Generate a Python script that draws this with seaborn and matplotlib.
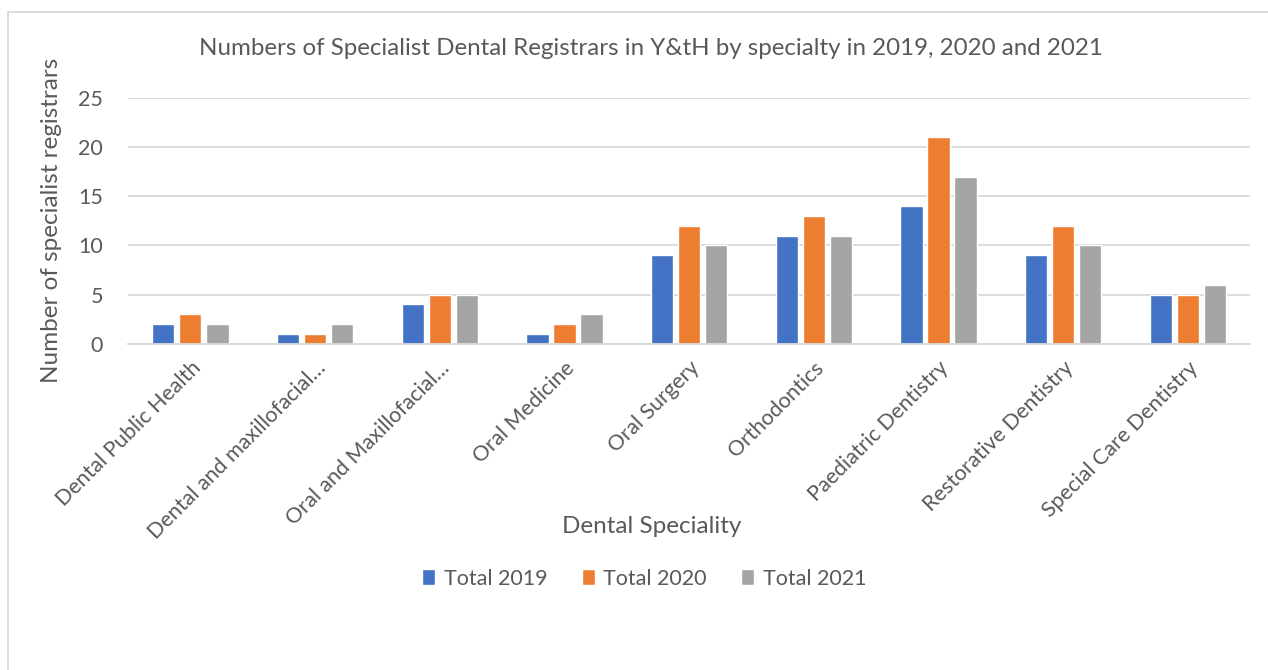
import matplotlib
matplotlib.use('Agg')
import matplotlib.pyplot as plt
from matplotlib.patches import Rectangle
import pandas as pd
import seaborn as sns

# данные с графика
specialties = ['Dental Public Health', 'Dental and maxillofacial\u2026', 'Oral and Maxillofacial\u2026',
               'Oral Medicine', 'Oral Surgery', 'Orthodontics', 'Paediatric Dentistry',
               'Restorative Dentistry', 'Special Care Dentistry']
total_2019 = [2, 1, 4, 1, 9, 11, 14, 9, 5]
total_2020 = [3, 1, 5, 2, 12, 13, 21, 12, 5]
total_2021 = [2, 2, 5, 3, 10, 11, 17, 10, 6]
series = ['Total 2019', 'Total 2020', 'Total 2021']
colors = ['#4472C4', '#ED7D31', '#A5A5A5']

df = pd.DataFrame({
    'Specialty': specialties * 3,
    'Series': [s for s in series for _ in specialties],
    'Value': total_2019 + total_2020 + total_2021,
})

sns.set_style('white')
plt.rcParams['font.family'] = ['Lato', 'DejaVu Sans']
text_col = '#595959'
grid_col = '#D9D9D9'

fig = plt.figure(figsize=(12.68, 6.70), dpi=100)
ax = fig.add_axes([0.101, 0.487, 0.885, 0.367])

sns.barplot(data=df, x='Specialty', y='Value', hue='Series', palette=colors,
            width=0.65, gap=0.18, saturation=1, ax=ax, legend=True)

ax.set_ylim(0, 25)
ax.set_yticks(range(0, 26, 5))
ax.yaxis.grid(True, color=grid_col, linewidth=1.3)
ax.set_axisbelow(True)
for side in ['top', 'right', 'left']:
    ax.spines[side].set_visible(False)
ax.spines['bottom'].set_color(grid_col)
ax.spines['bottom'].set_linewidth(1.3)
ax.tick_params(axis='both', length=0, colors=text_col, labelsize=15.5)
ax.tick_params(axis='y', pad=18)
ax.tick_params(axis='x', pad=10)
plt.setp(ax.get_xticklabels(), rotation=45, ha='right', rotation_mode='anchor')

ax.set_xlabel('Dental Speciality', fontsize=17.5, color=text_col, va='center')
ax.xaxis.set_label_coords(0.467, -0.744)
ax.set_ylabel('Number of specialist registrars', fontsize=17.5, color=text_col, labelpad=12)

fig.text(0.513, 0.928, 'Numbers of Specialist Dental Registrars in Y&tH by specialty in 2019, 2020 and 2021',
         ha='center', va='center', fontsize=17.4, color=text_col)

ax.legend(loc='center', bbox_to_anchor=(0.46, -0.955), ncol=3, frameon=False,
          fontsize=15.5, labelcolor=text_col, handlelength=0.6, handleheight=0.8,
          handletextpad=0.4, columnspacing=1.6)

# рамка вокруг графика
fig.patches.append(Rectangle((8 / 1268, -0.1), 1.2, 0.1 + 1 - 12 / 670, transform=fig.transFigure,
                             fill=False, edgecolor=grid_col, linewidth=1.3))

fig.savefig('out.png', dpi=100)
